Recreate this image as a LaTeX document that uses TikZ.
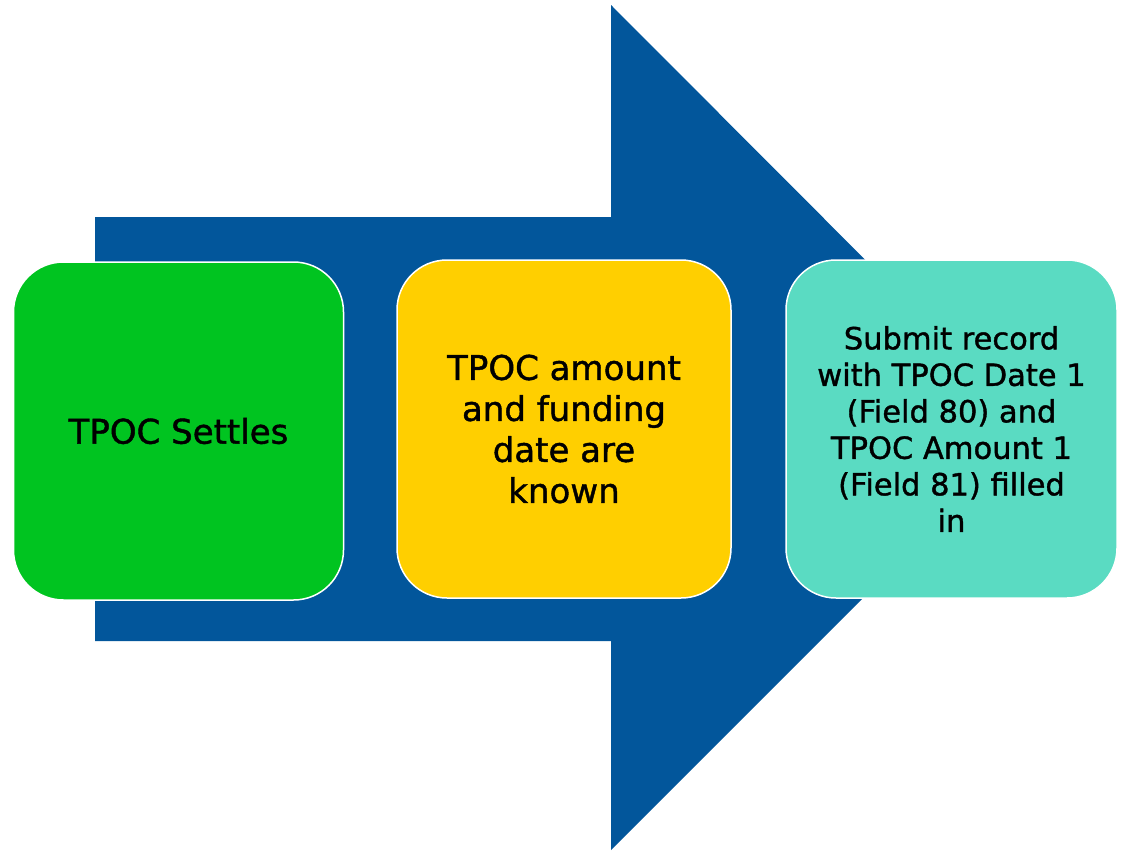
\documentclass[tikz,border=0pt]{standalone}
\usepackage{fontspec}
\setmainfont{DejaVu Sans}[BoldFont={DejaVu Sans}, BoldFeatures={FakeBold=1.2}]

\definecolor{arrowblue}{RGB}{2,86,155}
\definecolor{stepgreen}{RGB}{0,196,32}
\definecolor{stepyellow}{RGB}{255,207,0}
\definecolor{stepteal}{RGB}{90,219,194}

\tikzset{
  stepbox/.style={draw=white, line width=1.5pt, rounded corners=50pt,
    minimum width=330pt, minimum height=338pt, align=center, text=black},
  bigtext/.style={font=\fontsize{34}{41}\selectfont\bfseries},
  smalltext/.style={font=\fontsize{30.5}{36.5}\selectfont\bfseries}
}

\begin{document}
\begin{tikzpicture}[x=1pt, y=-1pt]
    \useasboundingbox (0,0) rectangle (1124,852);

    % Big arrow behind the steps
    \fill[arrowblue] (95,217) -- (611,217) -- (611,5) -- (1033,428)
        -- (611,850) -- (611,641) -- (95,641) -- cycle;

    % Steps
    \node[stepbox, bigtext, fill=stepgreen] (settle) at (178.5,431) {TPOC Settles};
    \node[stepbox, bigtext, fill=stepyellow, minimum width=334pt] (known) at (564,429)
        {TPOC amount\\and funding\\date are\\known};
    \node[stepbox, smalltext, fill=stepteal, minimum width=331pt] (submit) at (951.5,429)
        {Submit record\\with TPOC Date 1\\(Field 80) and\\TPOC Amount 1\\(Field 81) filled\\in};
\end{tikzpicture}
\end{document}
